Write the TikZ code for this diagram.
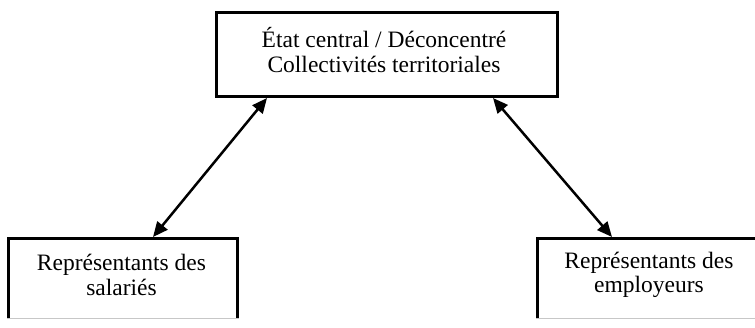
\documentclass[tikz,border=0pt]{standalone}
\usepackage{fontspec}
\setmainfont{Liberation Serif}
\usetikzlibrary{arrows.meta}
\begin{document}
\begin{tikzpicture}[x=1pt,y=-1pt,
  box/.style={draw=black, line width=3pt, fill=white, anchor=north west, inner sep=0pt},
  boxtext/.style={align=center, inner sep=0pt, font=\fontsize{23.5pt}{24.5pt}\selectfont},
  cutedge/.style={draw=black!22, line width=1pt},
  link/.style={line width=2.5pt, {Triangle[length=15pt,width=13pt]}-{Triangle[length=15pt,width=13pt]}}]
\useasboundingbox (0,0) rectangle (755,327);
\begin{scope}
  \clip (0,0) rectangle (755,318);
  % central authority box
  \node[box, minimum width=341pt, minimum height=84pt] (state) at (215,11) {};
  \node[boxtext] (statetext) at (384,50) {État central / Déconcentré\\Collectivités territoriales};
  % employee representatives
  \node[box, minimum width=229pt, minimum height=120pt] (sal) at (7,237) {};
  \node[boxtext] (saltext) at (121.5,275) {Représentants des\\salariés};
  % employer representatives
  \node[box, minimum width=226pt, minimum height=120pt] (emp) at (536,237) {};
  \node[boxtext] (emptext) at (649,275) {Représentants des\\employeurs};
\end{scope}
% faint lower edge where the two lower boxes are cut
\coordinate (salcut) at ([yshift=-81.5pt]sal.north west);
\coordinate (salcutend) at ([yshift=-81.5pt]sal.north east);
\coordinate (empcut) at ([yshift=-81.5pt]emp.north west);
\coordinate (empcutend) at (755,318.5);
\draw[cutedge] (salcut) -- (salcutend);
\draw[cutedge] (empcut) -- (empcutend);
% two-way links
\draw[link] ([xshift=52pt]state.south west) -- ([xshift=146pt]sal.north west);
\draw[link] ([xshift=-66pt]state.south east) -- ([xshift=76pt]emp.north west);
\end{tikzpicture}
\end{document}
